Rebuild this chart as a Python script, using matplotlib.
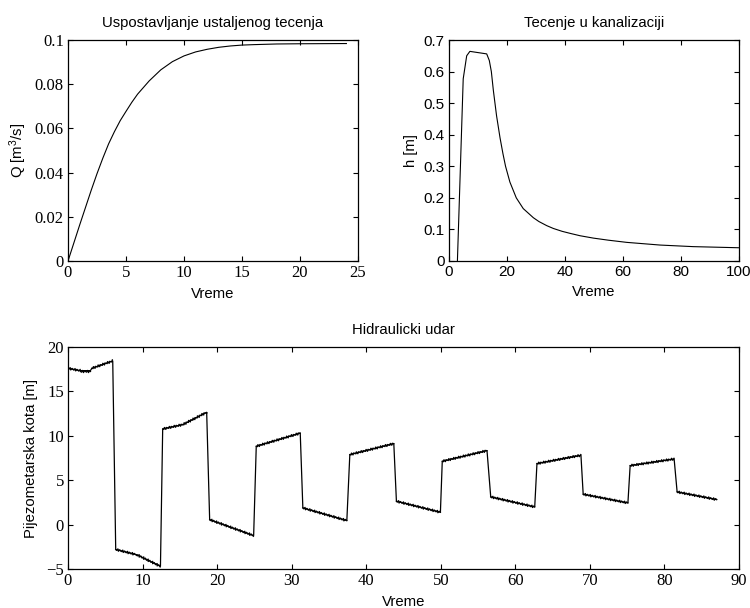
import numpy as np
import matplotlib
matplotlib.use("Agg")
import matplotlib.pyplot as plt

plt.rcParams['font.family'] = ['Liberation Sans', 'DejaVu Sans']
plt.rcParams['mathtext.fontset'] = 'custom'
plt.rcParams['mathtext.rm'] = 'Liberation Sans'
plt.rcParams['mathtext.it'] = 'Liberation Sans'

# Uspostavljanje ustaljenog tecenja
t_q = [0, 1, 2, 2.5, 3, 3.5, 4, 4.5, 5, 5.5, 6, 7, 8, 9, 10, 11, 12, 13, 14,
       15, 16, 18, 20, 24]
q = [0, 0.0162, 0.032, 0.0395, 0.0465, 0.053, 0.0585, 0.0635, 0.0677, 0.0718,
     0.0755, 0.0815, 0.0865, 0.0902, 0.0928, 0.0946, 0.0958, 0.0967, 0.0973,
     0.0977, 0.0979, 0.0982, 0.0983, 0.0984]

# Tecenje u kanalizaciji
t_h = [2.9, 4.9, 6.1, 7.2, 13.0, 13.9, 14.6, 15.3, 16.4, 17.6, 18.6, 19.5,
       21.0, 23.2, 25.6, 29.1, 31.0, 33.7, 36.0, 39.0, 42.0, 45.2, 49.8,
       54.9, 61.3, 72.8, 84.2, 99.8]
h = [0, 0.577, 0.65, 0.664, 0.656, 0.635, 0.60, 0.54, 0.46, 0.39, 0.34,
     0.30, 0.25, 0.20, 0.166, 0.137, 0.125, 0.112, 0.103, 0.094, 0.087,
     0.080, 0.0725, 0.066, 0.059, 0.0505, 0.0455, 0.042]

# Hidraulicki udar (corners of the wave)
t_p = [0, 1.6, 3.0, 3.2, 6.0, 6.4, 9.25, 12.4, 12.7, 15.4, 18.6, 19.0, 24.9,
       25.25, 31.15, 31.5, 37.4, 37.8, 43.7, 44.05, 49.95, 50.2, 56.2, 56.7,
       62.6, 62.9, 68.8, 69.1, 75.1, 75.4, 81.3, 81.7, 87.0]
p = [17.6, 17.34, 17.34, 17.6, 18.43, -2.8, -3.4, -4.7, 10.77, 11.26, 12.65,
     0.56, -1.24, 8.82, 10.3, 1.88, 0.45, 7.88, 9.12, 2.63, 1.39, 7.13, 8.33,
     3.12, 1.99, 6.87, 7.81, 3.42, 2.44, 6.64, 7.39, 3.68, 2.82]

W, H = 750, 608
fig = plt.figure(figsize=(W / 100, H / 100), dpi=100)

ax1 = fig.add_axes([68 / W, 1 - 261 / H, 290 / W, 221 / H])
ax2 = fig.add_axes([449 / W, 1 - 261 / H, 290 / W, 221 / H])
ax3 = fig.add_axes([68 / W, 1 - 569 / H, 671 / W, 222 / H])

fs = 10.7


def style(ax, serif):
    ax.tick_params(direction='in', length=3.6, width=0.8, top=True, right=True,
                   pad=3, labelsize=12 if serif else 11)
    for lab in ax.get_xticklabels() + ax.get_yticklabels():
        lab.set_family('Liberation Serif' if serif else 'Liberation Sans')
    for s in ax.spines.values():
        s.set_linewidth(0.9)


ax1.plot(t_q, q, color='black', lw=0.8)
ax1.set_xlim(0, 25)
ax1.set_ylim(0, 0.1)
ax1.set_xticks([0, 5, 10, 15, 20, 25])
ax1.set_yticks([0, 0.02, 0.04, 0.06, 0.08, 0.1])
ax1.set_yticklabels(['0', '0.02', '0.04', '0.06', '0.08', '0.1'])
ax1.set_title('Uspostavljanje ustaljenog tecenja', fontsize=fs, pad=9)
ax1.set_xlabel('Vreme', fontsize=fs, labelpad=4)
ax1.set_ylabel('Q [m$^3$/s]', fontsize=fs, labelpad=4)
style(ax1, True)

ax2.plot(t_h, h, color='black', lw=0.8)
ax2.set_xlim(0, 100)
ax2.set_ylim(0, 0.7)
ax2.set_xticks([0, 20, 40, 60, 80, 100])
ax2.set_yticks([0, 0.1, 0.2, 0.3, 0.4, 0.5, 0.6, 0.7])
ax2.set_yticklabels(['0', '0.1', '0.2', '0.3', '0.4', '0.5', '0.6', '0.7'])
ax2.set_title('Tecenje u kanalizaciji', fontsize=fs, pad=9)
ax2.set_xlabel('Vreme', fontsize=fs, labelpad=4)
ax2.set_ylabel('h [m]', fontsize=fs, labelpad=4)
style(ax2, False)

ax3.plot(t_p, p, color='black', lw=0.9)
# the slow parts carry a fine numerical ripple
for i in range(len(t_p) - 1):
    if t_p[i + 1] - t_p[i] > 1:
        seg, = ax3.plot(t_p[i:i + 2], p[i:i + 2], color='black', lw=0.9)
        seg.set_sketch_params(1.2, 2.5, 1.0)
ax3.set_xlim(0, 90)
ax3.set_ylim(-5, 20)
ax3.set_xticks(range(0, 91, 10))
ax3.set_yticks([-5, 0, 5, 10, 15, 20])
ax3.set_yticklabels(['\u22125', '0', '5', '10', '15', '20'])
ax3.set_title('Hidraulicki udar', fontsize=fs, pad=9)
ax3.set_xlabel('Vreme', fontsize=fs, labelpad=4)
ax3.set_ylabel('Pijezometarska kota [m]', fontsize=fs, labelpad=6)
style(ax3, True)

fig.savefig('out.png', dpi=100)
